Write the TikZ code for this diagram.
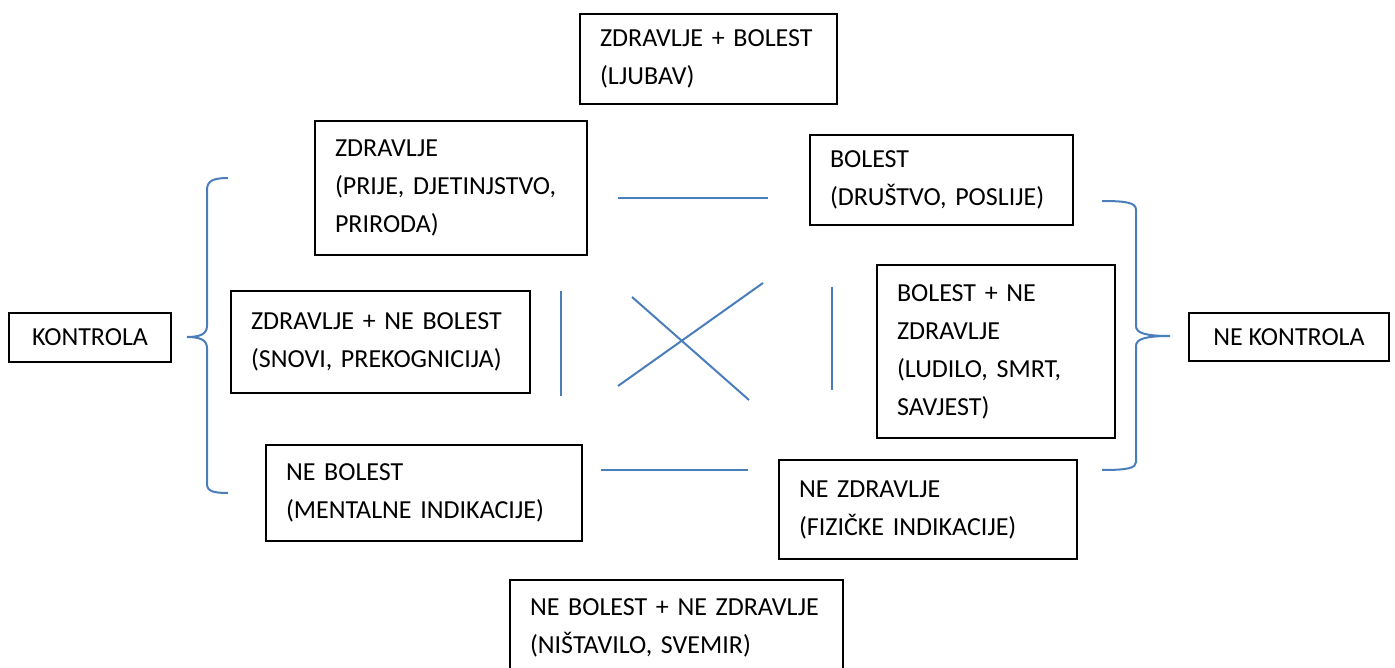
\documentclass[tikz,border=0pt]{standalone}
\usepackage{fontspec}
\setmainfont{Carlito}
\definecolor{lineblue}{RGB}{74,126,187}

\begin{document}
\begin{tikzpicture}[x=1pt, y=-1pt,
    box/.style={draw, line width=1.2pt, align=left, inner xsep=20pt, inner ysep=0pt, font=\fontsize{26}{38}\selectfont},
    sidebox/.style={draw, line width=1.2pt, align=center, inner sep=0pt, font=\fontsize{26}{38}\selectfont},
    link/.style={draw=lineblue, line width=2pt}]
                \useasboundingbox (0,0) rectangle (1395,668);
                \clip (0,0) rectangle (1395,668);
                \node[box, text width=217pt, minimum height=90pt] (zb) at (708.5,59) {ZDRAVLJE + BOLEST\\(LJUBAV)};
                \node[box, text width=232pt, minimum height=134pt] (z) at (451,188) {ZDRAVLJE\\(PRIJE, DJETINJSTVO,\\PRIRODA)};
                \node[box, text width=223pt, minimum height=90pt] (b) at (941.5,180) {BOLEST\\(DRUŠTVO, POSLIJE)};
                \node[box, text width=259pt, minimum height=102pt] (znb) at (380.5,342) {ZDRAVLJE + NE BOLEST\\(SNOVI, PREKOGNICIJA)};
                \node[box, text width=198pt, minimum height=173pt] (bnz) at (996,351.5) {BOLEST + NE\\ZDRAVLJE\\(LUDILO, SMRT,\\SAVJEST)};
                \node[box, text width=276pt, minimum height=96pt] (nb) at (424,493) {NE BOLEST\\(MENTALNE INDIKACIJE)};
                \node[box, text width=258pt, minimum height=99pt] (nz) at (928,509.5) {NE ZDRAVLJE\\(FIZIČKE INDIKACIJE)};
                \node[box, text width=293pt, minimum height=96pt] (nbnz) at (676.5,628) {NE BOLEST + NE ZDRAVLJE\\(NIŠTAVILO, SVEMIR)};
                \node[sidebox, minimum width=162pt, minimum height=49pt] (k) at (90,337.5) {KONTROLA};
                \node[sidebox, minimum width=200pt, minimum height=48pt] (nk) at (1289,337) {NE KONTROLA};
                \coordinate (h1a) at (618,198);
                \coordinate (h1b) at (768,198);
                \coordinate (h2a) at (601,470);
                \coordinate (h2b) at (748,470);
                \coordinate (v1a) at (561,291);
                \coordinate (v1b) at (561,396);
                \coordinate (v2a) at (832,287);
                \coordinate (v2b) at (832,390);
                \coordinate (x1a) at (618,386);
                \coordinate (x1b) at (763,283);
                \coordinate (x2a) at (632,297);
                \coordinate (x2b) at (749,400);
                \foreach \a/\b in {h1a/h1b, h2a/h2b, v1a/v1b, v2a/v2b, x1a/x1b, x2a/x2b} {
                    \draw[link] (\a) -- (\b);
                }
                \draw[link] (228,178) .. controls (213,178) and (207,181) .. (207,190) -- (207,326)
                    .. controls (207,334) and (200,337) .. (187,337)
                    .. controls (200,337) and (207,340) .. (207,348) -- (207,484)
                    .. controls (207,491) and (213,493) .. (228,493);
                \draw[link] (1102,201) .. controls (1128,201) and (1136,203) .. (1136,210) -- (1136,326)
                    .. controls (1136,333) and (1145,336) .. (1170,336)
                    .. controls (1145,336) and (1136,339) .. (1136,346) -- (1136,462)
                    .. controls (1136,468) and (1128,470) .. (1102,470);
            \end{tikzpicture}
\end{document}
